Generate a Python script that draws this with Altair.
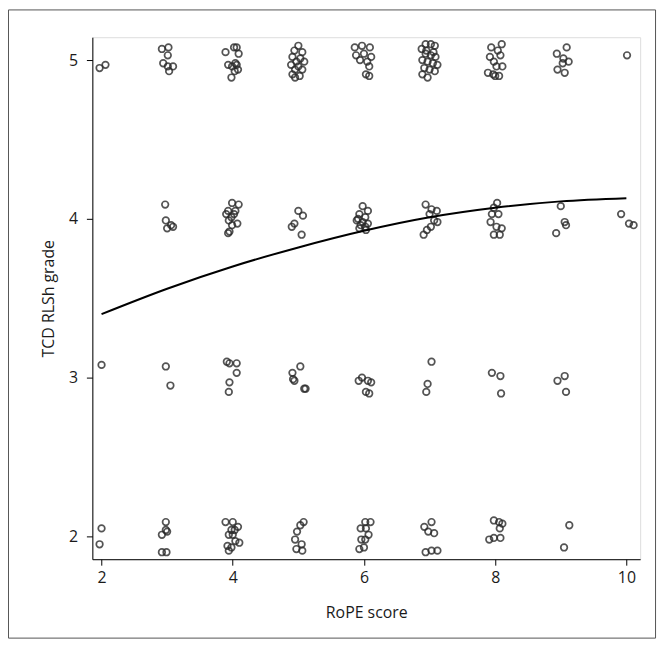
import altair as alt
import pandas as pd

# RoPE score (jittered) and TCD RLSh grade (jittered)
rope_g5 = [1.97, 2.06,
           2.92, 3.02, 3.01, 2.94, 3.01, 3.09, 3.03,
           3.89, 4.02, 4.06, 4.09, 3.93, 4.04, 3.99, 4.08, 4.03, 3.98, 4.06,
           5.00, 4.94, 5.06, 4.91, 5.03, 4.97, 5.09, 4.89, 5.00, 4.95, 5.06, 4.91, 5.02, 4.95,
           5.86, 5.97, 6.09, 5.88, 6.00, 6.11, 5.94, 6.05, 6.08, 6.03, 6.08,
           6.94, 7.02, 7.08, 6.88, 6.95, 7.06, 6.94, 7.02, 7.09, 6.89, 6.97, 7.05, 7.12, 6.92, 7.00, 7.08, 6.89, 6.97,
           7.94, 8.10, 8.04, 7.92, 8.08, 7.98, 8.11, 8.02, 7.89, 7.97, 8.06, 8.00,
           9.09, 8.94, 9.04, 9.12, 9.03, 8.95, 9.06,
           10.01]
tcd_g5 = [4.95, 4.97,
          5.07, 5.08, 5.03, 4.98, 4.96, 4.96, 4.93,
          5.05, 5.08, 5.08, 5.04, 4.97, 4.98, 4.96, 4.94, 4.93, 4.89, 4.97,
          5.09, 5.06, 5.05, 5.02, 5.01, 4.99, 4.99, 4.97, 4.96, 4.94, 4.94, 4.91, 4.90, 4.89,
          5.08, 5.09, 5.08, 5.03, 5.04, 5.02, 5.00, 4.99, 4.96, 4.91, 4.90,
          5.10, 5.10, 5.09, 5.07, 5.06, 5.05, 5.04, 5.03, 5.02, 5.00, 4.99, 4.98, 4.97, 4.95, 4.94, 4.93, 4.91, 4.89,
          5.08, 5.10, 5.06, 5.02, 5.03, 4.99, 4.96, 4.96, 4.92, 4.91, 4.90, 4.90,
          5.08, 5.04, 5.01, 4.99, 4.98, 4.94, 4.92,
          5.03]

rope_g4 = [2.97, 2.98, 3.06, 3.00, 3.09,
           3.99, 4.09, 3.93, 4.04, 3.90, 3.98, 3.94, 4.07, 3.99, 3.95, 3.93, 4.02,
           5.00, 5.07, 4.94, 4.90, 5.05,
           5.98, 6.06, 5.93, 6.02, 5.91, 5.89, 5.98, 6.06, 5.95, 6.02, 5.93, 6.03,
           6.94, 7.03, 7.11, 7.00, 7.07, 7.12, 7.02, 6.96, 6.91,
           8.03, 7.98, 7.95, 8.05, 7.93, 8.02, 8.10, 7.98, 8.07,
           9.00, 9.06, 9.08, 8.93,
           9.92, 10.04, 10.11]
tcd_g4 = [4.09, 3.99, 3.96, 3.94, 3.95,
          4.10, 4.09, 4.05, 4.05, 4.03, 4.01, 3.99, 3.97, 3.96, 3.92, 3.91, 4.03,
          4.05, 4.02, 3.97, 3.95, 3.90,
          4.08, 4.05, 4.03, 4.01, 4.00, 3.99, 3.98, 3.97, 3.96, 3.95, 3.94, 3.93,
          4.09, 4.06, 4.05, 4.03, 3.99, 3.98, 3.95, 3.93, 3.90,
          4.10, 4.07, 4.03, 4.03, 3.98, 3.95, 3.94, 3.90, 3.90,
          4.08, 3.98, 3.96, 3.91,
          4.03, 3.97, 3.96]

rope_g3 = [2.00,
           2.98, 3.05,
           3.91, 3.95, 4.06, 4.06, 3.95, 3.94,
           4.91, 5.03, 4.92, 4.94, 5.11, 5.09,
           5.92, 5.97, 6.06, 6.11, 6.03, 6.08,
           7.03, 6.97, 6.95,
           7.95, 8.08, 8.09,
           8.95, 9.06, 9.08]
tcd_g3 = [3.08,
          3.07, 2.95,
          3.10, 3.09, 3.09, 3.03, 2.97, 2.91,
          3.03, 3.07, 2.99, 2.98, 2.93, 2.93,
          2.98, 3.00, 2.98, 2.97, 2.91, 2.90,
          3.10, 2.96, 2.91,
          3.03, 3.01, 2.90,
          2.98, 3.01, 2.91]

rope_g2 = [2.00, 1.97,
           2.98, 2.92, 3.00, 2.98, 2.92, 2.99,
           3.89, 4.00, 4.08, 3.98, 4.03, 3.94, 4.00, 3.92, 3.98, 4.04, 4.10, 3.94,
           5.08, 5.03, 4.98, 4.95, 5.05, 4.97, 5.06,
           6.02, 6.10, 5.95, 6.03, 6.07, 5.96, 6.02, 5.93, 6.00,
           6.92, 7.03, 6.98, 7.07, 6.94, 7.03, 7.12,
           7.98, 8.06, 8.11, 8.07, 7.91, 7.98, 8.08,
           9.13, 9.05]
tcd_g2 = [2.05, 1.95,
          2.09, 2.01, 2.03, 2.04, 1.90, 1.90,
          2.09, 2.09, 2.06, 2.04, 2.04, 2.01, 2.01, 1.94, 1.93, 1.97, 1.96, 1.91,
          2.09, 2.07, 2.03, 1.98, 1.95, 1.92, 1.91,
          2.09, 2.09, 2.05, 2.05, 2.01, 1.98, 1.98, 1.92, 1.93,
          2.06, 2.09, 2.03, 2.02, 1.90, 1.91, 1.91,
          2.10, 2.09, 2.08, 2.05, 1.98, 1.99, 1.99,
          2.07, 1.93]

# fitted curve
fit_x = [2, 3, 4, 5, 6, 7, 8, 9, 10]
fit_y = [3.40, 3.56, 3.70, 3.82, 3.925, 4.01, 4.07, 4.11, 4.13]

x_ticks = [2, 4, 6, 8, 10]
y_ticks = [2, 3, 4, 5]

pts = pd.DataFrame({
    "rope": rope_g5 + rope_g4 + rope_g3 + rope_g2,
    "tcd": tcd_g5 + tcd_g4 + tcd_g3 + tcd_g2,
})
fit = pd.DataFrame({"rope": fit_x, "tcd": fit_y})

FONT = "Open Sans"
xscale = alt.Scale(domain=[1.86, 10.21], nice=False, zero=False)
yscale = alt.Scale(domain=[1.856, 5.144], nice=False, zero=False)

common = dict(grid=False, tickSize=6, labelFontSize=16, titleFontSize=16,
              labelFont=FONT, titleFont=FONT, titleFontWeight="normal",
              domainColor="#000", tickColor="#000", labelColor="#1a1a1a",
              titleColor="#1a1a1a", labelFlush=False, format="d")
xaxis = alt.Axis(values=x_ticks, title="RoPE score", labelPadding=4, titlePadding=20, **common)
yaxis = alt.Axis(values=y_ticks, title="TCD RLSh grade", labelPadding=9, titlePadding=12, **common)

points = alt.Chart(pts).mark_point(
    shape="circle", filled=False, size=44, strokeWidth=1.7,
    color="#2a2a2a", opacity=0.8
).encode(
    x=alt.X("rope:Q", scale=xscale, axis=xaxis),
    y=alt.Y("tcd:Q", scale=yscale, axis=yaxis),
)

line = alt.Chart(fit).mark_line(color="#000", strokeWidth=2, interpolate="monotone").encode(
    x=alt.X("rope:Q", scale=xscale),
    y=alt.Y("tcd:Q", scale=yscale),
)

frame_df = pd.DataFrame({"k": [0]})
fc = "#555555"
frame = alt.layer(
    alt.Chart(frame_df).mark_rule(color=fc, strokeWidth=1).encode(
        x=alt.value(-84.5), x2=alt.value(567.5), y=alt.value(-27.5)),
    alt.Chart(frame_df).mark_rule(color=fc, strokeWidth=1).encode(
        x=alt.value(-84.5), x2=alt.value(567.5), y=alt.value(605.5)),
    alt.Chart(frame_df).mark_rule(color=fc, strokeWidth=1).encode(
        x=alt.value(-84.5), y=alt.value(-27.5), y2=alt.value(605.5)),
    alt.Chart(frame_df).mark_rule(color=fc, strokeWidth=1).encode(
        x=alt.value(567.5), y=alt.value(-27.5), y2=alt.value(605.5)),
)

chart = alt.layer(points, line, frame).properties(
    width=552, height=526,
    autosize=alt.AutoSizeParams(type="none"),
    padding={"left": 85, "top": 27, "right": 20, "bottom": 85},
).configure_view(stroke=None).configure(background="white")

chart.save("out.html", embed_options={"renderer": "svg", "actions": False})
